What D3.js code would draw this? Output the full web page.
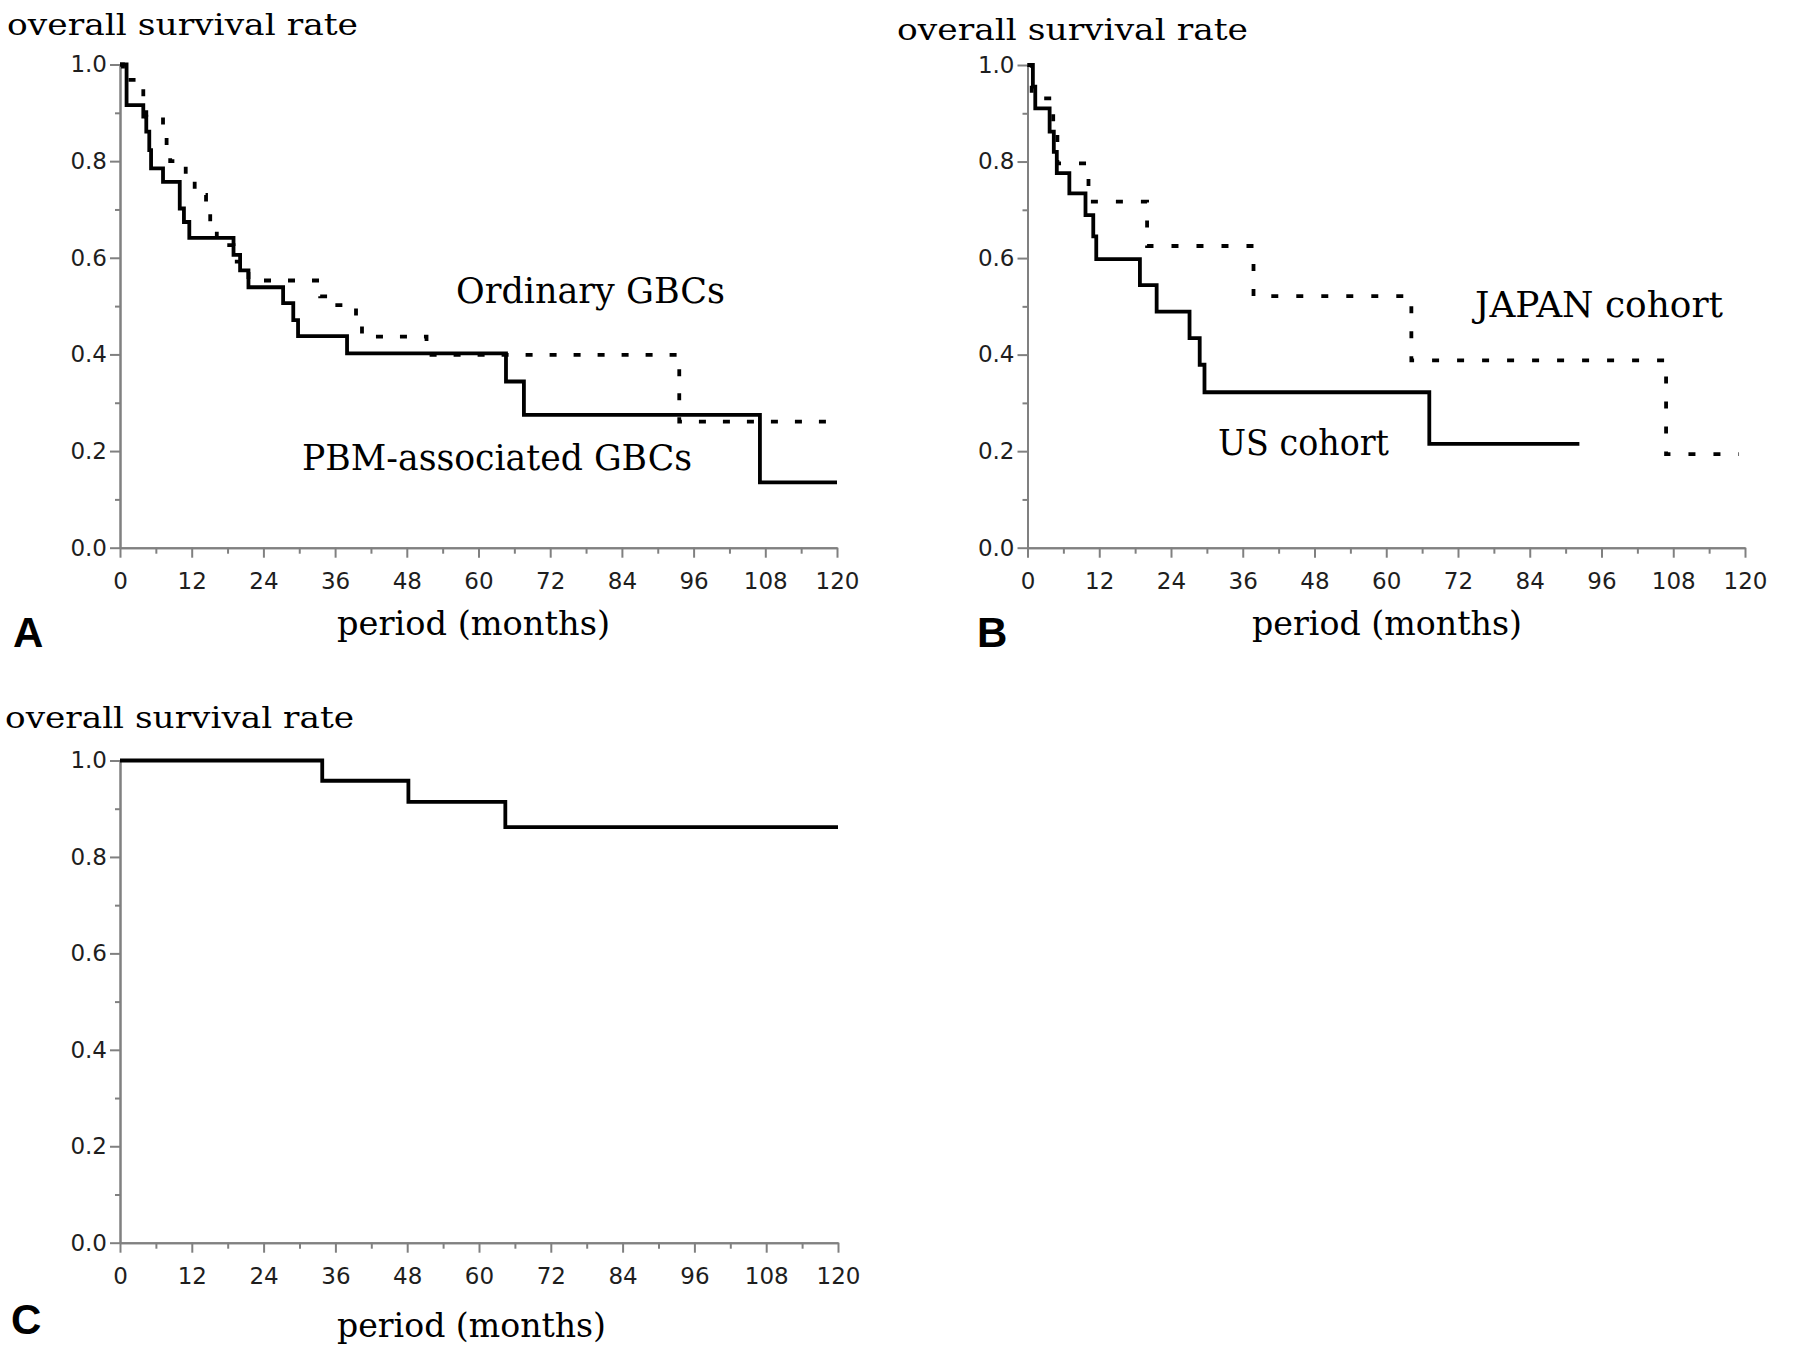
<!DOCTYPE html>
<html><head><meta charset="utf-8">
<script src="https://cdn.jsdelivr.net/npm/d3@7"></script>
<style>body{margin:0;background:#fff} svg{display:block}</style>
</head><body><svg id="c" width="1800" height="1350"></svg>
<script>
// ---- tick values ----
const monthTicks = [0,12,24,36,48,60,72,84,96,108,120];
const monthMinorTicks = [6,18,30,42,54,66,78,90,102,114];
const rateTicks = [0,0.2,0.4,0.6,0.8,1.0];
const rateMinorTicks = [0.1,0.3,0.5,0.7,0.9];

// ---- Panel A: PBM-associated GBCs (solid) ----
const pbmMonths   = [0, 1.1, 3.9, 4.4, 4.9, 5.2, 7.2, 10.0, 10.7, 11.6, 19.0, 20.1, 21.5, 27.3, 29.0, 29.8, 38.0, 64.6, 67.6, 107.1, 120];
const pbmSurvival = [1.0, 0.916, 0.892, 0.861, 0.823, 0.785, 0.757, 0.702, 0.674, 0.641, 0.606, 0.574, 0.539, 0.506, 0.471, 0.438, 0.402, 0.344, 0.275, 0.135, 0.135];
// ---- Panel A: Ordinary GBCs (dashed) ----
const ordMonths   = [0, 0.5, 3.9, 4.4, 7.2, 7.8, 8.4, 11.0, 12.5, 14.4, 15.1, 16.2, 19.0, 21.5, 33.5, 36.0, 39.5, 40.5, 51.3, 93.6, 120];
const ordSurvival = [1.0, 0.968, 0.930, 0.892, 0.860, 0.830, 0.800, 0.764, 0.730, 0.697, 0.662, 0.626, 0.592, 0.553, 0.520, 0.502, 0.468, 0.437, 0.399, 0.261, 0.261];

// ---- Panel B: US cohort (solid) ----
const usMonths   = [0, 0.9, 1.3, 3.7, 4.4, 4.9, 7.0, 9.7, 11.0, 11.5, 18.8, 21.6, 27.1, 28.8, 29.6, 67.2, 92.3];
const usSurvival = [1.0, 0.955, 0.910, 0.862, 0.820, 0.776, 0.734, 0.689, 0.645, 0.598, 0.544, 0.489, 0.434, 0.379, 0.322, 0.215, 0.215];
// ---- Panel B: JAPAN cohort (dashed) ----
const jpMonths   = [0, 0.7, 4.3, 5.0, 10.2, 20.0, 37.8, 64.2, 106.8, 119];
const jpSurvival = [1.0, 0.931, 0.865, 0.796, 0.717, 0.625, 0.521, 0.388, 0.194, 0.194];

// ---- Panel C (solid) ----
const cMonths   = [0, 33.8, 48.2, 64.4, 120];
const cSurvival = [1.0, 0.958, 0.914, 0.862, 0.862];

const yTitle = "overall survival rate";
const xTitle = "period (months)";

const svg = d3.select("#c");
svg.append("rect").attr("width",1800).attr("height",1350).attr("fill","#fff");

const SERIF = "'DejaVu Serif', 'Liberation Serif', serif";
const SANS = "'DejaVu Sans', Verdana, sans-serif";

const panels = [
  {left:120, right:837, top:64.5, bottom:547.7,
   series:[{m:ordMonths, s:ordSurvival, dash:"7,17"}, {m:pbmMonths, s:pbmSurvival, dash:null}],
   title:{x:7, y:35, len:351}, xt:{x:337, y:635, len:273},
   letter:{t:"A", x:13, y:647},
   labels:[{t:"Ordinary GBCs", x:456, y:303, len:269},{t:"PBM-associated GBCs", x:302, y:470, len:390}]},
  {left:1027.5, right:1745, top:65, bottom:547.7,
   series:[{m:jpMonths, s:jpSurvival, dash:"7,18"}, {m:usMonths, s:usSurvival, dash:null}],
   title:{x:897, y:40, len:351}, xt:{x:1252, y:635, len:270},
   letter:{t:"B", x:977, y:647},
   labels:[{t:"JAPAN cohort", x:1475, y:317, len:248},{t:"US cohort", x:1218, y:455, len:171}]},
  {left:120, right:838, top:760.5, bottom:1242.7,
   series:[{m:cMonths, s:cSurvival, dash:null}],
   title:{x:5, y:728, len:349}, xt:{x:337, y:1337, len:269},
   letter:{t:"C", x:11, y:1334},
   labels:[]}
];

function styleAxis(g){
  g.select(".domain").attr("stroke","#808080").attr("stroke-width",2);
  g.selectAll(".tick line").attr("stroke","#808080").attr("stroke-width",2);
  g.selectAll(".tick text").attr("fill","#1e1e1e").attr("font-family",SANS).attr("font-size",23);
}

panels.forEach(p => {
  const x = d3.scaleLinear().domain([0,120]).range([p.left,p.right]);
  const y = d3.scaleLinear().domain([0,1]).range([p.bottom,p.top]);

  // minor ticks
  svg.append("g").attr("transform",`translate(0,${p.bottom})`)
    .call(d3.axisBottom(x).tickValues(monthMinorTicks).tickSize(6).tickSizeOuter(0).tickFormat(""))
    .call(styleAxis);
  svg.append("g").attr("transform",`translate(${p.left},0)`)
    .call(d3.axisLeft(y).tickValues(rateMinorTicks).tickSize(5).tickSizeOuter(0).tickFormat(""))
    .call(styleAxis);
  // major
  svg.append("g").attr("transform",`translate(0,${p.bottom})`)
    .call(d3.axisBottom(x).tickValues(monthTicks).tickSize(10).tickSizeOuter(0).tickPadding(15).tickFormat(d3.format("d")))
    .call(styleAxis);
  svg.append("g").attr("transform",`translate(${p.left},0)`)
    .call(d3.axisLeft(y).tickValues(rateTicks).tickSize(10).tickSizeOuter(0).tickPadding(3).tickFormat(d3.format(".1f")))
    .call(styleAxis);

  const line = d3.line().x(d=>x(d[0])).y(d=>y(d[1])).curve(d3.curveStepAfter);
  p.series.forEach(s => {
    svg.append("path").datum(d3.zip(s.m, s.s))
      .attr("d", line).attr("fill","none").attr("stroke","#000")
      .attr("stroke-width",3.8)
      .attr("stroke-dasharray", s.dash)
      .attr("stroke-linejoin","miter");
  });

  svg.append("text").attr("x",p.title.x).attr("y",p.title.y).text(yTitle)
    .attr("font-family",SERIF).attr("font-size",30).attr("fill","#000")
    .attr("textLength",p.title.len).attr("lengthAdjust","spacingAndGlyphs");
  svg.append("text").attr("x",p.xt.x).attr("y",p.xt.y).text(xTitle)
    .attr("font-family",SERIF).attr("font-size",33).attr("fill","#000")
    .attr("textLength",p.xt.len).attr("lengthAdjust","spacingAndGlyphs");
  svg.append("text").attr("x",p.letter.x).attr("y",p.letter.y).text(p.letter.t)
    .attr("font-family","'Liberation Sans', Arial, sans-serif").attr("font-weight","bold")
    .attr("font-size",42).attr("fill","#000");
  p.labels.forEach(l => {
    svg.append("text").attr("x",l.x).attr("y",l.y).text(l.t)
      .attr("font-family",SERIF).attr("font-size",35).attr("fill","#000")
      .attr("textLength",l.len).attr("lengthAdjust","spacingAndGlyphs");
  });
});
</script></body></html>
